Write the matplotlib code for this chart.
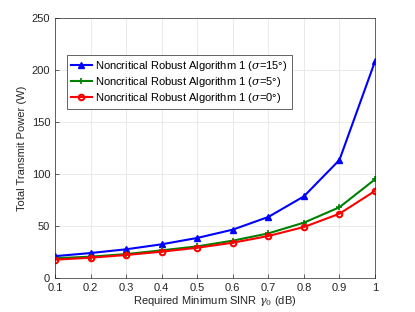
import numpy as np
import matplotlib.pyplot as plt

# datos
gamma0 = [0.1, 0.2, 0.3, 0.4, 0.5, 0.6, 0.7, 0.8, 0.9, 1.0]
p_s15 = [21, 24, 27.6, 32.4, 38.5, 46.5, 58.7, 78.5, 113.5, 208.3]
p_s5 = [19, 20.5, 23, 26.6, 30.4, 35.9, 42.9, 53.2, 68, 94.9]
p_s0 = [17.6, 19.5, 22.1, 25.3, 29.1, 33.9, 40.4, 49, 61.8, 83.7]
labels = ['Noncritical Robust Algorithm 1 ($\\sigma$=15°)',
          'Noncritical Robust Algorithm 1 ($\\sigma$=5°)',
          'Noncritical Robust Algorithm 1 ($\\sigma$=0°)']

plt.rcParams['font.family'] = ['Liberation Sans', 'DejaVu Sans']
plt.rcParams['mathtext.fontset'] = 'dejavuserif'

fig = plt.figure(figsize=(4.15, 3.12), dpi=100)
ax = fig.add_axes([55/415, 34/312, 320/415, 260/312])

ax.plot(gamma0, p_s15, 'b-^', lw=1.5, ms=5, label=labels[0])
ax.plot(gamma0, p_s5, '-+', color='#008000', lw=1.5, ms=4, mew=1.2, label=labels[1])
ax.plot(gamma0, p_s0, 'r-o', lw=1.5, ms=4, mfc='none', mew=1.5, label=labels[2])

ax.set_xlim(0.1, 1)
ax.set_ylim(0, 250)
ax.set_xticks(gamma0)
ax.set_xticklabels(['0.1', '0.2', '0.3', '0.4', '0.5', '0.6', '0.7', '0.8', '0.9', '1'])
ax.set_yticks([0, 50, 100, 150, 200, 250])
ax.grid(True, color='#e6e6e6', lw=0.6)
ax.tick_params(labelsize=8, direction='in', length=3, colors='#262626', width=0.5)
for s in ax.spines.values():
    s.set_color('#262626')
    s.set_linewidth(0.5)
ax.set_xlabel('Required Minimum SINR $\\gamma_0$ (dB)', fontsize=8, color='#262626', labelpad=1)
ax.set_ylabel('Total Transmit Power (W)', fontsize=8, color='#262626', labelpad=3)

leg = ax.legend(loc='upper left', bbox_to_anchor=(12/320, 223/260), fontsize=8,
                fancybox=False, edgecolor='#262626', framealpha=1, borderaxespad=0,
                handlelength=1.9, borderpad=0.35, labelspacing=0.2, handletextpad=0.3)
leg.get_frame().set_linewidth(0.5)

fig.savefig('out.png', dpi=100)
